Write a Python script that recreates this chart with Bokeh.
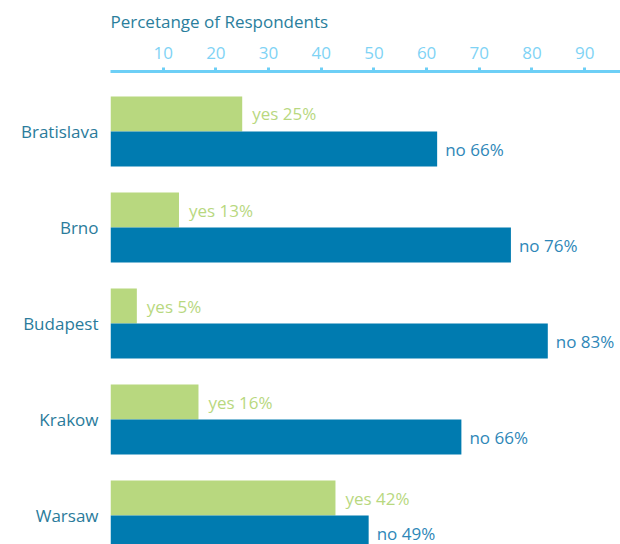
from bokeh.plotting import figure
from bokeh.models import ColumnDataSource, Range1d, FixedTicker
from bokeh.core.properties import value
from bokeh.embed import file_html
from bokeh.resources import INLINE

cities = ["Bratislava", "Brno", "Budapest", "Krakow", "Warsaw"]
yes_bar = [25, 13, 5, 16.7, 42.7]
no_bar = [62, 76, 83, 66.6, 49]
yes_pct = [25, 13, 5, 16, 42]
no_pct = [66, 76, 83, 66, 49]
x_ticks = [10, 20, 30, 40, 50, 60, 70, 80, 90, 100]

FONT = "Open Sans"
FS = "17px"
pos = list(range(len(cities)))
BAR_H = 0.3646
src = ColumnDataSource(dict(
    y_yes=[p - BAR_H / 2 for p in pos],
    y_no=[p + BAR_H / 2 for p in pos],
    yes=yes_bar, no=no_bar,
    yes_lab=[f"yes {v}%" for v in yes_pct],
    no_lab=[f"no {v}%" for v in no_pct],
))

p = figure(width=620, height=544, output_backend="svg", toolbar_location=None,
           x_range=Range1d(0, 96.8), y_range=Range1d(4.302, -0.625),
           x_axis_location="above", min_border_left=110, min_border_right=0,
           min_border_bottom=0, min_border_top=0,
           title="Percetange of Respondents")
p.outline_line_color = None
p.grid.visible = False

p.title.text_font = FONT
p.title.text_font_size = FS
p.title.text_font_style = "normal"
p.title.text_color = "#2a7e9c"
p.title.align = "left"
p.title.vertical_align = "top"
p.title.standoff = 18

xa = p.xaxis[0]
xa.ticker = FixedTicker(ticks=x_ticks)
xa.axis_line_color = "#6dcff6"
xa.axis_line_width = 3
xa.major_tick_line_color = "#6dcff6"
xa.major_tick_line_width = 3
xa.major_tick_out = 4
xa.major_tick_in = 0
xa.minor_tick_line_color = None
xa.major_label_text_font = FONT
xa.major_label_text_font_size = FS
xa.major_label_text_color = "#7fd3f5"
xa.major_label_standoff = 9

ya = p.yaxis[0]
ya.ticker = FixedTicker(ticks=pos)
ya.major_label_overrides = {i: c for i, c in enumerate(cities)}
ya.axis_line_color = None
ya.major_tick_line_color = None
ya.minor_tick_line_color = None
ya.major_label_text_font = FONT
ya.major_label_text_font_size = FS
ya.major_label_text_color = "#2a7b9b"
ya.major_label_standoff = 6

p.hbar(y="y_yes", left=0, right="yes", height=BAR_H, source=src,
       fill_color="#b8d87f", line_color=None)
p.hbar(y="y_no", left=0, right="no", height=BAR_H, source=src,
       fill_color="#007bb0", line_color=None)

p.text(x="yes", y="y_yes", text="yes_lab", source=src, x_offset=10,
       text_font=value(FONT), text_font_size=FS, text_color="#b8d87f",
       text_baseline="middle", text_align="left")
p.text(x="no", y="y_no", text="no_lab", source=src, x_offset=8,
       text_font=value(FONT), text_font_size=FS, text_color="#2e87b8",
       text_baseline="middle", text_align="left")

open("out.html", "w").write(file_html(p, INLINE))
